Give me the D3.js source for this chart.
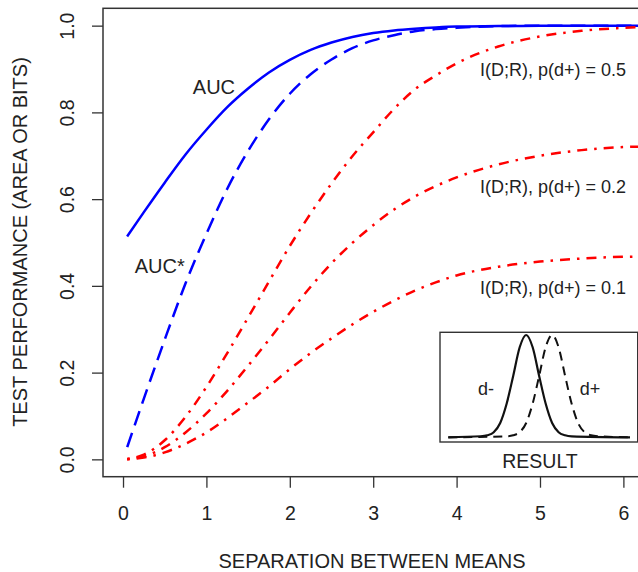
<!DOCTYPE html>
<html>
<head>
<meta charset="utf-8">
<script src="https://cdn.jsdelivr.net/npm/d3@7"></script>
<style>
  body { margin: 0; background: #fff; }
  svg { display: block; font-family: "Liberation Sans", Arial, sans-serif; }
</style>
</head>
<body>
<div id="chart"></div>
<script>
var w = 638;
var h = 572;

// separation between means (x values)
var sep = [0.05, 0.25, 0.5, 0.75, 1, 1.25, 1.5, 1.75, 2, 2.25, 2.5, 2.75, 3, 3.25, 3.5, 3.75, 4, 4.5, 5, 5.5, 6, 6.5];
// series
var auc      = [0.514, 0.570, 0.638, 0.703, 0.760, 0.812, 0.855, 0.892, 0.921, 0.944, 0.961, 0.974, 0.983, 0.989, 0.993, 0.996, 0.998, 0.999, 1, 1, 1, 1];
var aucStar  = [0.028, 0.140, 0.276, 0.406, 0.520, 0.624, 0.711, 0.784, 0.843, 0.888, 0.922, 0.948, 0.966, 0.978, 0.987, 0.992, 0.995, 0.999, 1, 1, 1, 1];
var miHalf   = [0.001, 0.011, 0.044, 0.098, 0.167, 0.245, 0.327, 0.410, 0.492, 0.567, 0.636, 0.699, 0.754, 0.808, 0.853, 0.885, 0.913, 0.952, 0.975, 0.988, 0.995, 0.998];
var miFifth  = [0.0003, 0.007, 0.028, 0.062, 0.106, 0.158, 0.216, 0.276, 0.338, 0.398, 0.452, 0.499, 0.540, 0.576, 0.606, 0.630, 0.650, 0.680, 0.700, 0.713, 0.720, 0.722];
var miTenth  = [0.0002, 0.004, 0.016, 0.036, 0.062, 0.095, 0.131, 0.168, 0.208, 0.245, 0.279, 0.311, 0.340, 0.366, 0.389, 0.408, 0.424, 0.444, 0.456, 0.463, 0.467, 0.468];

var xTicks = [0, 1, 2, 3, 4, 5, 6];
var yTicks = [0, 0.2, 0.4, 0.6, 0.8, 1.0];
var miLabels = ["I(D;R), p(d+) = 0.5", "I(D;R), p(d+) = 0.2", "I(D;R), p(d+) = 0.1"];

// inset: result axis (in sd units) and relative density
var resultX  = [-6, -3.5, -3, -2.5, -2, -1.5, -1, -0.5, 0, 0.5, 1, 1.5, 2, 2.5, 3, 3.5, 8];
var densNeg  = [0, 0.01, 0.02, 0.05, 0.14, 0.33, 0.6, 0.88, 1, 0.88, 0.6, 0.33, 0.14, 0.05, 0.02, 0.01, 0];
var resultX2 = [-6, -1.5, -1, -0.5, 0, 0.5, 1, 1.5, 2, 2.5, 3, 3.5, 4, 4.5, 5, 5.5, 8];
var densPos  = [0, 0.01, 0.02, 0.05, 0.14, 0.33, 0.6, 0.88, 1, 0.88, 0.6, 0.33, 0.14, 0.05, 0.02, 0.01, 0];

var ink = "#222";

var svg = d3.select("#chart")
            .append("svg")
            .attr("width", w)
            .attr("height", h);

// scales (R style: 4% padding each side)
var xScale = d3.scaleLinear().domain([-0.24, 6.24]).range([103, 643.4]);
var yScale = d3.scaleLinear().domain([-0.04, 1.04]).range([476.7, 8.3]);

svg.append("clipPath").attr("id", "plotclip")
    .append("rect")
    .attr("x", xScale(-0.24)).attr("y", yScale(1.04))
    .attr("width", xScale(6.24) - xScale(-0.24))
    .attr("height", yScale(-0.04) - yScale(1.04));

// axes
var xAxis = d3.axisBottom(xScale)
              .tickValues(xTicks)
              .tickSize(11)
              .tickPadding(18)
              .tickFormat(d3.format("d"));
var yAxis = d3.axisLeft(yScale)
              .tickValues(yTicks)
              .tickSize(11)
              .tickFormat(d3.format(".1f"));

var gx = svg.append("g")
    .attr("transform", "translate(0," + yScale(-0.04) + ")")
    .call(xAxis);
var gy = svg.append("g")
    .attr("transform", "translate(" + xScale(-0.24) + ",0)")
    .call(yAxis);

[gx, gy].forEach(function(g) {
    g.select(".domain").remove();
    g.selectAll("line").attr("stroke", "#333").attr("stroke-width", 1.3);
    g.selectAll("text").attr("fill", ink).style("font-size", "19.5px")
        .style("font-family", "\"Liberation Sans\", Arial, sans-serif");
});
// R draws y tick labels parallel to the axis
gy.selectAll("text")
    .attr("x", 0)
    .attr("y", -29)
    .attr("dy", 0)
    .attr("text-anchor", "middle")
    .attr("transform", "rotate(-90)");

// plot box
svg.append("rect")
    .attr("x", xScale(-0.24)).attr("y", yScale(1.04))
    .attr("width", xScale(6.24) - xScale(-0.24))
    .attr("height", yScale(-0.04) - yScale(1.04))
    .attr("fill", "none")
    .attr("stroke", "#333")
    .attr("stroke-width", 1.5);

// curves
var series = [
    { v: auc,     color: "#0000ff", dash: null },
    { v: aucStar, color: "#0000ff", dash: "15,8" },
    { v: miHalf,  color: "#ff0000", dash: "2.5,7,10,7" },
    { v: miFifth, color: "#ff0000", dash: "2.5,7,10,7" },
    { v: miTenth, color: "#ff0000", dash: "2.5,7,10,7" }
];

var line = d3.line()
    .x(function(d) { return xScale(d[0]); })
    .y(function(d) { return yScale(d[1]); })
    .curve(d3.curveMonotoneX);

svg.append("g").attr("clip-path", "url(#plotclip)")
    .selectAll("path")
    .data(series)
    .enter()
    .append("path")
    .attr("d", function(s) { return line(sep.map(function(x, i) { return [x, s.v[i]]; })); })
    .attr("fill", "none")
    .attr("stroke", function(s) { return s.color; })
    .attr("stroke-width", 2.5)
    .attr("stroke-dasharray", function(s) { return s.dash; });

// curve labels
var lab = svg.append("g").attr("fill", ink);
lab.append("text").attr("x", xScale(1.09)).attr("y", yScale(0.842))
    .attr("text-anchor", "middle").style("font-size", "20px").text("AUC");
lab.append("text").attr("x", xScale(0.44)).attr("y", yScale(0.4286))
    .attr("text-anchor", "middle").style("font-size", "20px").text("AUC*");
var labY = [0.883, 0.613, 0.382];
miLabels.forEach(function(t, i) {
    lab.append("text").attr("x", xScale(4.28)).attr("y", yScale(labY[i]))
        .style("font-size", "18px").text(t);
});

// axis titles
svg.append("text")
    .attr("x", 372).attr("y", 568)
    .attr("text-anchor", "middle")
    .attr("fill", ink)
    .style("font-size", "20px")
    .text("SEPARATION BETWEEN MEANS");
svg.append("text")
    .attr("transform", "translate(26.7," + 242 + ") rotate(-90)")
    .attr("text-anchor", "middle")
    .attr("fill", ink)
    .style("font-size", "20px")
    .text("TEST PERFORMANCE (AREA OR BITS)");

// INSET
var ix = d3.scaleLinear().domain([-6, 8]).range([448.3, 630]);
var iy = d3.scaleLinear().domain([0, 1]).range([437.3, 335]);
var inset = svg.append("g");
inset.append("rect")
    .attr("x", 440).attr("y", 332.3)
    .attr("width", 197.7).attr("height", 109.7)
    .attr("fill", "#fff")
    .attr("stroke", "#333")
    .attr("stroke-width", 1.4);

var iline = d3.line()
    .x(function(d) { return ix(d[0]); })
    .y(function(d) { return iy(d[1]); })
    .curve(d3.curveMonotoneX);

inset.append("path")
    .attr("d", iline(resultX2.map(function(x, i) { return [x, densPos[i]]; })))
    .attr("fill", "none").attr("stroke", "#111")
    .attr("stroke-width", 2).attr("stroke-dasharray", "9,6");
inset.append("path")
    .attr("d", iline(resultX.map(function(x, i) { return [x, densNeg[i]]; })))
    .attr("fill", "none").attr("stroke", "#111")
    .attr("stroke-width", 2.2);

inset.append("text").attr("x", 486).attr("y", 395).attr("text-anchor", "middle")
    .attr("fill", ink).style("font-size", "18px").text("d-");
inset.append("text").attr("x", 590).attr("y", 395).attr("text-anchor", "middle")
    .attr("fill", ink).style("font-size", "18px").text("d+");
inset.append("text").attr("x", 540).attr("y", 467.7).attr("text-anchor", "middle")
    .attr("fill", ink).style("font-size", "19.5px").text("RESULT");
</script>
</body>
</html>
